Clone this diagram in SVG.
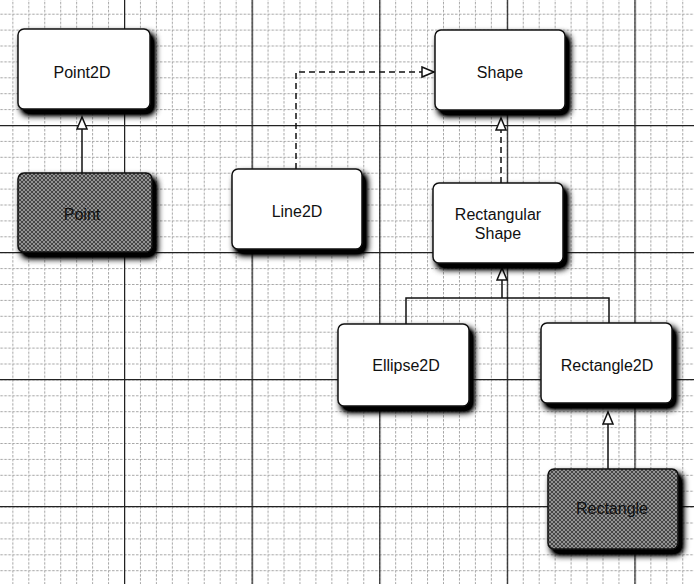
<svg xmlns="http://www.w3.org/2000/svg" width="694" height="584" viewBox="0 0 694 584">
<style>
.box{fill:#fff;stroke:#111;stroke-width:1.5;filter:url(#sh)}
.dark{fill:url(#hatch);stroke:#111;stroke-width:1.5;filter:url(#sh)}
.lbl{font-family:"Liberation Sans",Arial,sans-serif;font-size:16px;fill:#111;text-anchor:middle}
.conn{fill:none;stroke:#111;stroke-width:1.5}
.dash{stroke-dasharray:6 4}
</style>
<defs>
<pattern id="minor" patternUnits="userSpaceOnUse" x="12.35" y="13.7" width="15.95" height="15.9">
<path d="M0,0.5 H15.95 M0.5,0 V15.9" stroke="#a6a6a6" stroke-width="1" stroke-dasharray="2.5 1.5" fill="none"/>
</pattern>
<pattern id="major" patternUnits="userSpaceOnUse" x="124" y="125" width="127.6" height="127">
<path d="M0,0.5 H127.6 M0.5,0 V127" stroke="#222" stroke-width="1.5" fill="none"/>
</pattern>
<pattern id="hatch" patternUnits="userSpaceOnUse" width="4" height="4">
<rect width="4" height="4" fill="#929292"/>
<path d="M0,4 L4,0 M0,0 L4,4" stroke="#3c3c3c" stroke-width="0.9"/>
</pattern>
<filter id="sh" x="-20%" y="-20%" width="150%" height="150%">
<feGaussianBlur in="SourceAlpha" stdDeviation="3.5"/>
<feOffset dx="4" dy="5" result="b"/>
<feComponentTransfer in="b" result="c"><feFuncA type="linear" slope="1.7"/></feComponentTransfer>
<feMerge><feMergeNode in="c"/><feMergeNode in="SourceGraphic"/></feMerge>
</filter>
<marker id="tri" markerUnits="userSpaceOnUse" markerWidth="16" markerHeight="14" refX="13" refY="6" orient="auto">
<path d="M1,1 L13,6 L1,11 z" fill="#fff" stroke="#111" stroke-width="1.5" stroke-dasharray="none"/>
</marker>
</defs>
<rect width="694" height="584" fill="#fff"/>
<rect width="694" height="584" fill="url(#minor)"/>
<rect width="694" height="584" fill="url(#major)"/>
<g id="connectors">
<path class="conn" d="M82,173 V117" marker-end="url(#tri)"/>
<path class="conn dash" d="M296,169 V72 H434" marker-end="url(#tri)"/>
<path class="conn dash" d="M501,183 V118" marker-end="url(#tri)"/>
<path class="conn" d="M406,324 V298 H609 V323"/>
<path class="conn" d="M502,298 V268" marker-end="url(#tri)"/>
<path class="conn" d="M608,469 V412" marker-end="url(#tri)"/>
</g>
<g id="Point2D"><rect class="box" x="18" y="29" width="132" height="80" rx="6"/><text class="lbl" x="82" y="78">Point2D</text></g>
<g id="Point"><rect class="dark" x="18" y="173" width="134" height="79" rx="6"/><text class="lbl" x="82" y="220">Point</text></g>
<g id="Line2D"><rect class="box" x="232" y="169" width="130" height="80" rx="6"/><text class="lbl" x="297" y="217">Line2D</text></g>
<g id="Shape"><rect class="box" x="435" y="30" width="130" height="80" rx="6"/><text class="lbl" x="500" y="78">Shape</text></g>
<g id="RectangularShape"><rect class="box" x="433" y="183" width="130" height="80" rx="6"/><text class="lbl" x="498" y="220">Rectangular</text><text class="lbl" x="498" y="239">Shape</text></g>
<g id="Ellipse2D"><rect class="box" x="338" y="324" width="131" height="82" rx="6"/><text class="lbl" x="406" y="371">Ellipse2D</text></g>
<g id="Rectangle2D"><rect class="box" x="541" y="323" width="131" height="80" rx="6"/><text class="lbl" x="607" y="371">Rectangle2D</text></g>
<g id="Rectangle"><rect class="dark" x="548" y="469" width="130" height="80" rx="6"/><text class="lbl" x="612" y="514">Rectangle</text></g>
</svg>
